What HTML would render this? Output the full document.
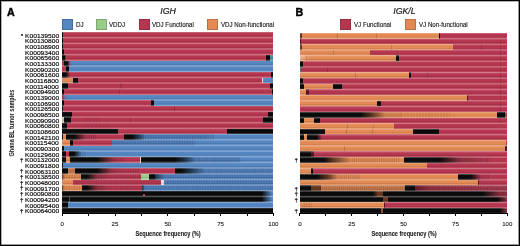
<!DOCTYPE html>
<html><head><meta charset="utf-8"><style>
html,body{margin:0;padding:0;background:#fff;}
body{width:520px;height:246px;position:relative;overflow:hidden;font-family:"Liberation Sans",sans-serif;color:#222;}
.fr{position:absolute;left:0;top:0;width:520px;height:246px;box-sizing:border-box;border:1px solid #000;box-shadow:inset -1px -1px 0 rgba(0,0,0,0.4), inset 1px 1px 0 rgba(0,0,0,0.3);}
.r{position:absolute;}
.wrap{position:absolute;left:0;top:0;width:520px;height:246px;will-change:transform;filter:blur(0.35px);}
.lab{position:absolute;-webkit-text-stroke:0.15px #000;left:24.6px;font-size:6.2px;line-height:7px;white-space:nowrap;color:#000;transform-origin:0 50%;transform:scaleX(1.08);}
.dag{position:absolute;font-size:6.2px;line-height:7px;color:#000;-webkit-text-stroke:0.2px #000;}
.dot{position:absolute;width:2px;height:2px;border-radius:1px;background:#111;}
.tk{position:absolute;-webkit-text-stroke:0.1px #222;width:30px;text-align:center;font-size:6.1px;line-height:7px;color:#222;}
.xl{position:absolute;-webkit-text-stroke:0.12px #1a1a1a;width:100px;text-align:center;font-weight:bold;font-size:7.4px;line-height:8px;color:#1a1a1a;transform:scaleX(0.76);}
.pl{position:absolute;font-weight:bold;font-size:10.7px;line-height:11px;color:#000;-webkit-text-stroke:0.45px #000;}
.ti{position:absolute;font-style:italic;font-size:8.8px;line-height:9px;color:#1a1a1a;-webkit-text-stroke:0.2px #1a1a1a;}
.lg{position:absolute;width:11px;height:11.2px;box-sizing:border-box;border:0.6px solid rgba(0,0,0,0.18);}
.lt{position:absolute;-webkit-text-stroke:0.15px #1a1a1a;font-size:6.9px;line-height:7px;white-space:nowrap;color:#222;transform-origin:0 50%;transform:scaleX(0.895);}
.yl{position:absolute;width:90px;height:8px;text-align:center;font-weight:bold;font-size:7px;line-height:8px;white-space:nowrap;color:#111;transform:rotate(-90deg) scaleX(0.79);}
</style></head><body><div class="wrap">
<div class="pl" style="left:6.9px;top:6.6px">A</div>
<div class="pl" style="left:295.6px;top:6.6px">B</div>
<div class="ti" style="left:160.3px;top:7.0px">IGH</div>
<div class="ti" style="left:393.2px;top:7.0px">IGK/L</div>
<div class="lg" style="left:61.8px;top:18.5px;background:#5486c2"></div><div class="lt" style="left:75.8px;top:20.8px">DJ</div>
<div class="lg" style="left:96px;top:18.5px;background:#9ccc8a"></div><div class="lt" style="left:109.2px;top:20.8px">VDDJ</div>
<div class="lg" style="left:138.5px;top:18.5px;background:#b6364f"></div><div class="lt" style="left:152.3px;top:20.8px">VDJ Functional</div>
<div class="lg" style="left:206.9px;top:18.5px;background:#e38a55"></div><div class="lt" style="left:220.8px;top:20.8px">VDJ Non-functional</div>
<div class="lg" style="left:340.3px;top:18.5px;background:#b6364f"></div><div class="lt" style="left:354px;top:20.8px">VJ Functional</div>
<div class="lg" style="left:404.9px;top:18.5px;background:#e38a55"></div><div class="lt" style="left:419px;top:20.8px">VJ Non-functional</div>
<div class="yl" style="left:-32.8px;top:118.9px">Ghana BL tumor samples</div>
<div class="r" style="left:62.20px;top:32.20px;width:211.20px;height:5.669px;background:linear-gradient(to right,#0a0a0a 0px,#0a0a0a 1.00px,#b6364f 1.00px,#b6364f 211.20px)"></div>
<div class="r" style="left:62.20px;top:37.87px;width:211.20px;height:5.669px;background:linear-gradient(to right,#0a0a0a 0px,#0a0a0a 0.80px,#b6364f 0.80px,#b6364f 211.20px)"></div>
<div class="r" style="left:62.20px;top:43.54px;width:211.20px;height:5.669px;background:linear-gradient(to right,#0a0a0a 0px,#0a0a0a 0.60px,#b6364f 0.60px,#b6364f 211.20px)"></div>
<div class="r" style="left:62.20px;top:49.21px;width:211.20px;height:5.669px;background:linear-gradient(to right,#0a0a0a 0px,#0a0a0a 1.60px,#b6364f 1.60px,#b6364f 211.20px)"></div>
<div class="r" style="left:62.20px;top:54.88px;width:211.20px;height:5.669px;background:linear-gradient(to right,#0a0a0a 0px,#0a0a0a 2.70px,#0a0a0a 2.70px,#a04a40 4.00px,#b6364f 5.30px,#b6364f 204.30px,#0a0a0a 204.30px,#0a0a0a 208.50px,#4a8aa8 208.50px,#4a8aa8 211.20px)"></div>
<div class="r" style="left:62.20px;top:60.54px;width:211.20px;height:5.669px;background:linear-gradient(to right,#b6364f 0px,#b6364f 1.50px,#0a0a0a 1.50px,#0a0a0a 5.10px,#0a0a0a 5.10px,#7a6a9a 8.30px,#5486c2 10.80px,#5486c2 211.20px)"></div>
<div class="r" style="left:62.20px;top:66.21px;width:211.20px;height:5.669px;background:linear-gradient(to right,#b6364f 0px,#b6364f 3.80px,#0a0a0a 3.80px,#0a0a0a 6.90px,#5486c2 6.90px,#5486c2 211.20px)"></div>
<div class="r" style="left:62.20px;top:71.88px;width:211.20px;height:5.669px;background:linear-gradient(to right,#0a0a0a 0px,#0a0a0a 3.90px,#0a0a0a 3.90px,#b6364f 7.80px,#b6364f 208.80px,#0a0a0a 208.80px,#0a0a0a 211.20px)"></div>
<div class="r" style="left:62.20px;top:77.55px;width:211.20px;height:5.669px;background:linear-gradient(to right,#e38a55 0px,#e38a55 11.30px,#0a0a0a 11.30px,#0a0a0a 15.50px,#b6364f 15.50px,#b6364f 199.80px,#f0e0e0 199.80px,#f0e0e0 201.50px,#5486c2 201.50px,#5486c2 211.20px)"></div>
<div class="r" style="left:62.20px;top:83.22px;width:211.20px;height:5.669px;background:linear-gradient(to right,#0a0a0a 0px,#0a0a0a 6.10px,#b6364f 6.10px,#b6364f 208.50px,#0a0a0a 208.50px,#0a0a0a 211.20px)"></div>
<div class="r" style="left:120.00px;top:83.22px;width:2.00px;height:5.67px;background:rgba(0,0,0,0.138)"></div>
<div class="r" style="left:62.20px;top:88.89px;width:211.20px;height:5.669px;background:linear-gradient(to right,#0a0a0a 0px,#0a0a0a 2.30px,#b6364f 2.30px,#b6364f 209.80px,#0a0a0a 209.80px,#0a0a0a 211.20px)"></div>
<div class="r" style="left:119.00px;top:88.89px;width:1.00px;height:5.67px;background:rgba(0,0,0,0.165)"></div>
<div class="r" style="left:62.20px;top:94.56px;width:211.20px;height:5.669px;background:linear-gradient(to right,#b6364f 0px,#b6364f 1.80px,#7a6a9a 1.80px,#7a6a9a 4.10px,#5486c2 4.10px,#5486c2 211.20px)"></div>
<div class="r" style="left:62.20px;top:100.22px;width:211.20px;height:5.669px;background:linear-gradient(to right,#0a0a0a 0px,#0a0a0a 1.80px,#b6364f 1.80px,#b6364f 89.20px,#0a0a0a 89.20px,#0a0a0a 92.30px,#5486c2 92.30px,#5486c2 211.20px)"></div>
<div class="r" style="left:62.20px;top:105.89px;width:211.20px;height:5.669px;background:linear-gradient(to right,#0a0a0a 0px,#0a0a0a 1.30px,#b6364f 1.30px,#b6364f 211.20px)"></div>
<div class="r" style="left:174.00px;top:105.89px;width:1.00px;height:5.67px;background:rgba(0,0,0,0.193)"></div>
<div class="r" style="left:62.20px;top:111.56px;width:211.20px;height:5.669px;background:linear-gradient(to right,#0a0a0a 0px,#0a0a0a 10.30px,#b6364f 10.30px,#b6364f 205.80px,#0a0a0a 205.80px,#0a0a0a 211.20px)"></div>
<div class="r" style="left:62.20px;top:117.23px;width:211.20px;height:5.669px;background:linear-gradient(to right,#d8b8b0 0px,#d8b8b0 1.80px,#0a0a0a 1.80px,#0a0a0a 9.20px,#b6364f 9.20px,#b6364f 192.80px,#b6364f 192.80px,#b6364f 200.80px,#0a0a0a 200.80px,#0a0a0a 211.20px)"></div>
<div class="r" style="left:84.00px;top:117.23px;width:16.00px;height:5.67px;background:repeating-linear-gradient(to right,rgba(0,0,0,0.075) 0px,rgba(0,0,0,0) 1.60px,rgba(0,0,0,0.075) 3.20px)"></div>
<div class="r" style="left:130.00px;top:117.23px;width:1.00px;height:5.67px;background:rgba(0,0,0,0.138)"></div>
<div class="r" style="left:62.20px;top:122.90px;width:211.20px;height:5.669px;background:linear-gradient(to right,#0a0a0a 0px,#0a0a0a 5.10px,#b6364f 5.10px,#b6364f 211.20px)"></div>
<div class="r" style="left:84.00px;top:122.90px;width:26.00px;height:5.67px;background:repeating-linear-gradient(to right,rgba(0,0,0,0.060) 0px,rgba(0,0,0,0) 2.00px,rgba(0,0,0,0.060) 4.00px)"></div>
<div class="r" style="left:62.20px;top:128.57px;width:211.20px;height:5.669px;background:linear-gradient(to right,#0a0a0a 0px,#0a0a0a 55.80px,#b6364f 55.80px,#b6364f 164.80px,#0a0a0a 164.80px,#0a0a0a 211.20px)"></div>
<div class="r" style="left:62.20px;top:134.24px;width:211.20px;height:5.669px;background:linear-gradient(to right,#0a0a0a 0px,#0a0a0a 0.80px,#e38a55 0.80px,#e38a55 3.80px,#0a0a0a 3.80px,#0a0a0a 12.30px,#0a0a0a 12.30px,#b6364f 23.80px,#b6364f 62.20px,#0a0a0a 62.20px,#0a0a0a 70.30px,#0a0a0a 70.30px,#1d3550 75.80px,#4f7ebb 83.80px,#4f7ebb 142.80px,#4f7ebb 142.80px,#5486c2 152.80px,#5486c2 211.20px)"></div>
<div class="r" style="left:76.00px;top:134.24px;width:20.00px;height:5.67px;background:repeating-linear-gradient(to right,rgba(0,0,0,0.175) 0px,rgba(0,0,0,0) 1.10px,rgba(0,0,0,0.175) 2.20px)"></div>
<div class="r" style="left:138.00px;top:134.24px;width:77.00px;height:5.67px;background:repeating-linear-gradient(to right,rgba(0,0,0,0.150) 0px,rgba(0,0,0,0) 1.30px,rgba(0,0,0,0.150) 2.60px)"></div>
<div class="r" style="left:62.20px;top:139.91px;width:211.20px;height:5.669px;background:linear-gradient(to right,#e38a55 0px,#e38a55 8.20px,#0a0a0a 8.20px,#0a0a0a 11.30px,#b6364f 11.30px,#b6364f 49.80px,#4f7ebb 49.80px,#4f7ebb 127.80px,#4f7ebb 127.80px,#5486c2 137.80px,#5486c2 211.20px)"></div>
<div class="r" style="left:112.00px;top:139.91px;width:83.00px;height:5.67px;background:repeating-linear-gradient(to right,rgba(0,0,0,0.110) 0px,rgba(0,0,0,0) 1.30px,rgba(0,0,0,0.110) 2.60px)"></div>
<div class="r" style="left:62.20px;top:145.57px;width:211.20px;height:5.669px;background:linear-gradient(to right,#0a0a0a 0px,#0a0a0a 2.30px,#5486c2 2.30px,#5486c2 211.20px)"></div>
<div class="r" style="left:62.20px;top:151.24px;width:211.20px;height:5.669px;background:linear-gradient(to right,#0a0a0a 0px,#0a0a0a 3.80px,#b6364f 3.80px,#b6364f 7.30px,#0a0a0a 7.30px,#0a0a0a 11.80px,#0a0a0a 11.80px,#5486c2 19.80px,#5486c2 211.20px)"></div>
<div class="r" style="left:74.00px;top:151.24px;width:12.00px;height:5.67px;background:repeating-linear-gradient(to right,rgba(0,0,0,0.150) 0px,rgba(0,0,0,0) 1.10px,rgba(0,0,0,0.150) 2.20px)"></div>
<div class="r" style="left:62.20px;top:156.91px;width:211.20px;height:5.669px;background:linear-gradient(to right,#0a0a0a 0px,#0a0a0a 3.80px,#e38a55 3.80px,#e38a55 7.80px,#0a0a0a 7.80px,#0a0a0a 35.20px,#0a0a0a 35.20px,#94303f 49.80px,#b6364f 57.80px,#b6364f 77.80px,#e8e0b0 77.80px,#e8e0b0 79.00px,#0a0a0a 79.00px,#0a0a0a 112.80px,#0a0a0a 112.80px,#1d3550 122.80px,#4f7ebb 133.80px,#4f7ebb 172.80px,#4f7ebb 172.80px,#5486c2 187.80px,#5486c2 211.20px)"></div>
<div class="r" style="left:97.00px;top:156.91px;width:28.00px;height:5.67px;background:repeating-linear-gradient(to right,rgba(0,0,0,0.150) 0px,rgba(0,0,0,0) 1.20px,rgba(0,0,0,0.150) 2.40px)"></div>
<div class="r" style="left:176.00px;top:156.91px;width:64.00px;height:5.67px;background:repeating-linear-gradient(to right,rgba(0,0,0,0.150) 0px,rgba(0,0,0,0) 1.30px,rgba(0,0,0,0.150) 2.60px)"></div>
<div class="r" style="left:62.20px;top:162.58px;width:211.20px;height:5.669px;background:linear-gradient(to right,#0a0a0a 0px,#0a0a0a 0.80px,#5486c2 0.80px,#5486c2 211.20px)"></div>
<div class="r" style="left:62.20px;top:168.25px;width:211.20px;height:5.669px;background:linear-gradient(to right,#0a0a0a 0px,#0a0a0a 6.10px,#c07048 6.10px,#c07048 13.40px,#0a0a0a 13.40px,#0a0a0a 35.20px,#0a0a0a 35.20px,#94303f 47.80px,#b6364f 55.80px,#b6364f 113.30px,#0a0a0a 113.30px,#0a0a0a 119.30px,#0a0a0a 119.30px,#1d3550 127.80px,#4f7ebb 142.80px,#4f7ebb 211.20px)"></div>
<div class="r" style="left:95.00px;top:168.25px;width:45.00px;height:5.67px;background:repeating-linear-gradient(to right,rgba(0,0,0,0.150) 0px,rgba(0,0,0,0) 1.20px,rgba(0,0,0,0.150) 2.40px)"></div>
<div class="r" style="left:180.00px;top:168.25px;width:93.00px;height:5.67px;background:repeating-linear-gradient(to right,rgba(0,0,0,0.110) 0px,rgba(0,0,0,0) 1.30px,rgba(0,0,0,0.110) 2.60px)"></div>
<div class="r" style="left:62.20px;top:173.92px;width:211.20px;height:5.669px;background:linear-gradient(to right,#6a3a20 0px,#e38a55 2.80px,#e38a55 18.60px,#0a0a0a 18.60px,#0a0a0a 24.80px,#0a0a0a 24.80px,#94303f 34.80px,#b6364f 47.80px,#b6364f 78.80px,#9ccc8a 78.80px,#9ccc8a 86.80px,#0a0a0a 86.80px,#0a0a0a 92.80px,#1d3550 92.80px,#4f7ebb 102.80px,#4f7ebb 211.20px)"></div>
<div class="r" style="left:62.00px;top:173.92px;width:19.00px;height:5.67px;background:repeating-linear-gradient(to right,rgba(0,0,0,0.125) 0px,rgba(0,0,0,0) 1.25px,rgba(0,0,0,0.125) 2.50px)"></div>
<div class="r" style="left:87.00px;top:173.92px;width:54.00px;height:5.67px;background:repeating-linear-gradient(to right,rgba(0,0,0,0.110) 0px,rgba(0,0,0,0) 1.20px,rgba(0,0,0,0.110) 2.40px)"></div>
<div class="r" style="left:155.00px;top:173.92px;width:118.00px;height:5.67px;background:repeating-linear-gradient(to right,rgba(0,0,0,0.100) 0px,rgba(0,0,0,0) 1.30px,rgba(0,0,0,0.100) 2.60px)"></div>
<div class="r" style="left:62.20px;top:179.59px;width:211.20px;height:5.669px;background:linear-gradient(to right,#e38a55 0px,#e38a55 11.30px,#b6364f 11.30px,#b6364f 99.10px,#f0e0e0 99.10px,#f0e0e0 102.30px,#4f7ebb 102.30px,#4f7ebb 211.20px)"></div>
<div class="r" style="left:74.00px;top:179.59px;width:86.00px;height:5.67px;background:repeating-linear-gradient(to right,rgba(0,0,0,0.075) 0px,rgba(0,0,0,0) 1.25px,rgba(0,0,0,0.075) 2.50px)"></div>
<div class="r" style="left:165.00px;top:179.59px;width:108.00px;height:5.67px;background:repeating-linear-gradient(to right,rgba(0,0,0,0.100) 0px,rgba(0,0,0,0) 1.30px,rgba(0,0,0,0.100) 2.60px)"></div>
<div class="r" style="left:62.20px;top:185.26px;width:211.20px;height:5.669px;background:linear-gradient(to right,#6a3a20 0px,#e38a55 2.30px,#e38a55 19.60px,#0a0a0a 19.60px,#0a0a0a 24.80px,#0a0a0a 24.80px,#94303f 35.80px,#b6364f 47.80px,#b6364f 80.30px,#1d3550 80.30px,#4f7ebb 82.80px,#4f7ebb 211.20px)"></div>
<div class="r" style="left:62.00px;top:185.26px;width:20.00px;height:5.67px;background:repeating-linear-gradient(to right,rgba(0,0,0,0.100) 0px,rgba(0,0,0,0) 1.25px,rgba(0,0,0,0.100) 2.50px)"></div>
<div class="r" style="left:87.00px;top:185.26px;width:55.00px;height:5.67px;background:repeating-linear-gradient(to right,rgba(0,0,0,0.110) 0px,rgba(0,0,0,0) 1.20px,rgba(0,0,0,0.110) 2.40px)"></div>
<div class="r" style="left:143.00px;top:185.26px;width:130.00px;height:5.67px;background:repeating-linear-gradient(to right,rgba(0,0,0,0.100) 0px,rgba(0,0,0,0) 1.30px,rgba(0,0,0,0.100) 2.60px)"></div>
<div class="r" style="left:62.20px;top:190.92px;width:211.20px;height:5.669px;background:linear-gradient(to right,#0a0a0a 0px,#0a0a0a 199.80px,#0a0a0a 199.80px,#5486c2 209.80px,#5486c2 211.20px)"></div>
<div class="r" style="left:62.20px;top:196.59px;width:211.20px;height:5.669px;background:linear-gradient(to right,#0a0a0a 0px,#0a0a0a 6.80px,#505050 6.80px,#505050 7.80px,#0a0a0a 7.80px,#0a0a0a 199.80px,#0a0a0a 199.80px,#5486c2 209.80px,#5486c2 211.20px)"></div>
<div class="r" style="left:62.20px;top:202.26px;width:211.20px;height:5.669px;background:linear-gradient(to right,#0a0a0a 0px,#0a0a0a 5.80px,#5486c2 5.80px,#5486c2 211.20px)"></div>
<div class="r" style="left:62.20px;top:207.93px;width:211.20px;height:5.669px;background:linear-gradient(to right,#0a0a0a 0px,#0a0a0a 211.20px)"></div>
<div class="r" style="left:62.20px;top:32.20px;width:211.20px;height:181.40px;background:repeating-linear-gradient(to bottom,rgba(255,255,255,0.33) 0px,rgba(255,255,255,0) 1.4px,rgba(0,0,0,0) 3.27px,rgba(0,0,0,0.13) 3.97px,rgba(255,255,255,0.06) 4.67px,rgba(255,255,255,0.33) 5.669px)"></div>
<div class="r" style="left:299.90px;top:32.90px;width:207.40px;height:5.644px;background:linear-gradient(to right,#6a3a20 0px,#6a3a20 1.80px,#e38a55 1.80px,#e38a55 139.10px,#0a0a0a 139.10px,#0a0a0a 140.10px,#b6364f 140.10px,#b6364f 207.40px)"></div>
<div class="r" style="left:337.00px;top:32.90px;width:1.00px;height:5.64px;background:rgba(0,0,0,0.165)"></div>
<div class="r" style="left:376.00px;top:32.90px;width:1.00px;height:5.64px;background:rgba(0,0,0,0.138)"></div>
<div class="r" style="left:299.90px;top:38.54px;width:207.40px;height:5.644px;background:linear-gradient(to right,#4a1020 0px,#4a1020 1.10px,#b6364f 1.10px,#b6364f 207.40px)"></div>
<div class="r" style="left:299.90px;top:44.19px;width:207.40px;height:5.644px;background:linear-gradient(to right,#6a3a20 0px,#6a3a20 1.80px,#e38a55 1.80px,#e38a55 153.00px,#b6364f 153.00px,#b6364f 207.40px)"></div>
<div class="r" style="left:391.00px;top:44.19px;width:1.00px;height:5.64px;background:rgba(0,0,0,0.138)"></div>
<div class="r" style="left:481.00px;top:44.19px;width:1.00px;height:5.64px;background:rgba(0,0,0,0.165)"></div>
<div class="r" style="left:299.90px;top:49.83px;width:207.40px;height:5.644px;background:linear-gradient(to right,#e38a55 0px,#e38a55 69.70px,#b6364f 69.70px,#b6364f 207.40px)"></div>
<div class="r" style="left:333.00px;top:49.83px;width:1.00px;height:5.64px;background:rgba(0,0,0,0.138)"></div>
<div class="r" style="left:299.90px;top:55.47px;width:207.40px;height:5.644px;background:linear-gradient(to right,#f0b090 0px,#e38a55 10.10px,#e38a55 95.70px,#0a0a0a 95.70px,#0a0a0a 98.80px,#b6364f 98.80px,#b6364f 207.40px)"></div>
<div class="r" style="left:306.00px;top:55.47px;width:1.00px;height:5.64px;background:rgba(0,0,0,0.138)"></div>
<div class="r" style="left:299.90px;top:61.12px;width:207.40px;height:5.644px;background:linear-gradient(to right,#0a0a0a 0px,#0a0a0a 3.30px,#b6364f 3.30px,#b6364f 207.40px)"></div>
<div class="r" style="left:299.90px;top:66.76px;width:207.40px;height:5.644px;background:linear-gradient(to right,#606070 0px,#606070 1.10px,#b6364f 1.10px,#b6364f 207.40px)"></div>
<div class="r" style="left:327.00px;top:66.76px;width:1.00px;height:5.64px;background:rgba(0,0,0,0.138)"></div>
<div class="r" style="left:299.90px;top:72.41px;width:207.40px;height:5.644px;background:linear-gradient(to right,#e38a55 0px,#e38a55 109.40px,#0a0a0a 109.40px,#0a0a0a 111.40px,#b6364f 111.40px,#b6364f 207.40px)"></div>
<div class="r" style="left:355.00px;top:72.41px;width:1.00px;height:5.64px;background:rgba(0,0,0,0.165)"></div>
<div class="r" style="left:427.00px;top:72.41px;width:1.00px;height:5.64px;background:rgba(0,0,0,0.138)"></div>
<div class="r" style="left:299.90px;top:78.05px;width:207.40px;height:5.644px;background:linear-gradient(to right,#0a0a0a 0px,#0a0a0a 3.30px,#b6364f 3.30px,#b6364f 207.40px)"></div>
<div class="r" style="left:299.90px;top:83.69px;width:207.40px;height:5.644px;background:linear-gradient(to right,#0a0a0a 0px,#0a0a0a 4.30px,#e38a55 4.30px,#e38a55 33.40px,#0a0a0a 33.40px,#0a0a0a 41.70px,#b6364f 41.70px,#b6364f 207.40px)"></div>
<div class="r" style="left:299.90px;top:89.34px;width:207.40px;height:5.644px;background:linear-gradient(to right,#e38a55 0px,#e38a55 6.40px,#5a1424 6.40px,#5a1424 8.50px,#b6364f 8.50px,#b6364f 207.40px)"></div>
<div class="r" style="left:299.90px;top:94.98px;width:207.40px;height:5.644px;background:linear-gradient(to right,#e38a55 0px,#e38a55 166.50px,#5a1424 166.50px,#5a1424 167.60px,#b6364f 167.60px,#b6364f 207.40px)"></div>
<div class="r" style="left:299.90px;top:100.62px;width:207.40px;height:5.644px;background:linear-gradient(to right,#e38a55 0px,#e38a55 77.10px,#0a0a0a 77.10px,#0a0a0a 81.10px,#b6364f 81.10px,#b6364f 207.40px)"></div>
<div class="r" style="left:299.90px;top:106.27px;width:207.40px;height:5.644px;background:linear-gradient(to right,#b6364f 0px,#b6364f 207.40px)"></div>
<div class="r" style="left:299.90px;top:111.91px;width:207.40px;height:5.644px;background:linear-gradient(to right,#0a0a0a 0px,#0a0a0a 60.40px,#0a0a0a 60.40px,#6a3a20 72.10px,#e38a55 85.10px,#e38a55 196.60px,#0a0a0a 196.60px,#0a0a0a 204.90px,#b6364f 204.90px,#b6364f 207.40px)"></div>
<div class="r" style="left:362.00px;top:111.91px;width:40.00px;height:5.64px;background:repeating-linear-gradient(to right,rgba(0,0,0,0.175) 0px,rgba(0,0,0,0) 1.00px,rgba(0,0,0,0.175) 2.00px)"></div>
<div class="r" style="left:402.00px;top:111.91px;width:48.00px;height:5.64px;background:repeating-linear-gradient(to right,rgba(0,0,0,0.100) 0px,rgba(0,0,0,0) 1.50px,rgba(0,0,0,0.100) 3.00px)"></div>
<div class="r" style="left:299.90px;top:117.56px;width:207.40px;height:5.644px;background:linear-gradient(to right,#0a0a0a 0px,#0a0a0a 3.90px,#e38a55 3.90px,#e38a55 14.30px,#0a0a0a 14.30px,#0a0a0a 19.90px,#b6364f 19.90px,#b6364f 207.40px)"></div>
<div class="r" style="left:299.90px;top:123.20px;width:207.40px;height:5.644px;background:linear-gradient(to right,#e38a55 0px,#e38a55 93.60px,#b6364f 93.60px,#b6364f 207.40px)"></div>
<div class="r" style="left:347.00px;top:123.20px;width:1.00px;height:5.64px;background:rgba(0,0,0,0.138)"></div>
<div class="r" style="left:373.00px;top:123.20px;width:1.00px;height:5.64px;background:rgba(0,0,0,0.110)"></div>
<div class="r" style="left:299.90px;top:128.84px;width:207.40px;height:5.644px;background:linear-gradient(to right,#0a0a0a 0px,#0a0a0a 24.70px,#e38a55 24.70px,#e38a55 112.50px,#0a0a0a 112.50px,#0a0a0a 139.10px,#b6364f 139.10px,#b6364f 207.40px)"></div>
<div class="r" style="left:346.00px;top:128.84px;width:1.00px;height:5.64px;background:rgba(0,0,0,0.165)"></div>
<div class="r" style="left:372.00px;top:128.84px;width:1.00px;height:5.64px;background:rgba(0,0,0,0.138)"></div>
<div class="r" style="left:299.90px;top:134.49px;width:207.40px;height:5.644px;background:linear-gradient(to right,#0a0a0a 0px,#0a0a0a 4.30px,#e38a55 4.30px,#e38a55 7.40px,#0a0a0a 7.40px,#0a0a0a 16.80px,#0a0a0a 16.80px,#b6364f 22.10px,#b6364f 207.40px)"></div>
<div class="r" style="left:299.90px;top:140.13px;width:207.40px;height:5.644px;background:linear-gradient(to right,#e38a55 0px,#e38a55 206.10px,#b6364f 206.10px,#b6364f 207.40px)"></div>
<div class="r" style="left:299.90px;top:145.78px;width:207.40px;height:5.644px;background:linear-gradient(to right,#e38a55 0px,#e38a55 205.10px,#5a1424 205.10px,#5a1424 207.40px)"></div>
<div class="r" style="left:344.00px;top:145.78px;width:1.00px;height:5.64px;background:rgba(0,0,0,0.165)"></div>
<div class="r" style="left:299.90px;top:151.42px;width:207.40px;height:5.644px;background:linear-gradient(to right,#0a0a0a 0px,#0a0a0a 10.60px,#5a1424 10.60px,#5a1424 13.60px,#b6364f 13.60px,#b6364f 207.40px)"></div>
<div class="r" style="left:299.90px;top:157.06px;width:207.40px;height:5.644px;background:linear-gradient(to right,#0a0a0a 0px,#0a0a0a 24.10px,#0a0a0a 24.10px,#6a3a20 33.10px,#e38a55 50.10px,#e38a55 104.10px,#0a0a0a 104.10px,#0a0a0a 139.50px,#0a0a0a 139.50px,#94303f 160.10px,#b6364f 185.10px,#b6364f 207.40px)"></div>
<div class="r" style="left:325.00px;top:157.06px;width:75.00px;height:5.64px;background:repeating-linear-gradient(to right,rgba(0,0,0,0.150) 0px,rgba(0,0,0,0) 1.05px,rgba(0,0,0,0.150) 2.10px)"></div>
<div class="r" style="left:439.00px;top:157.06px;width:51.00px;height:5.64px;background:repeating-linear-gradient(to right,rgba(0,0,0,0.150) 0px,rgba(0,0,0,0) 1.15px,rgba(0,0,0,0.150) 2.30px)"></div>
<div class="r" style="left:299.90px;top:162.71px;width:207.40px;height:5.644px;background:linear-gradient(to right,#e38a55 0px,#e38a55 127.10px,#b6364f 127.10px,#b6364f 207.40px)"></div>
<div class="r" style="left:299.90px;top:168.35px;width:207.40px;height:5.644px;background:linear-gradient(to right,#e38a55 0px,#e38a55 10.60px,#0a0a0a 10.60px,#0a0a0a 13.10px,#b6364f 13.10px,#b6364f 207.40px)"></div>
<div class="r" style="left:299.90px;top:173.99px;width:207.40px;height:5.644px;background:linear-gradient(to right,#0a0a0a 0px,#0a0a0a 16.80px,#0a0a0a 16.80px,#6a3a20 28.10px,#e38a55 37.60px,#e38a55 158.10px,#0a0a0a 158.10px,#0a0a0a 170.60px,#0a0a0a 170.60px,#b6364f 181.10px,#b6364f 207.40px)"></div>
<div class="r" style="left:317.00px;top:173.99px;width:43.00px;height:5.64px;background:repeating-linear-gradient(to right,rgba(0,0,0,0.150) 0px,rgba(0,0,0,0) 1.05px,rgba(0,0,0,0.150) 2.10px)"></div>
<div class="r" style="left:470.00px;top:173.99px;width:20.00px;height:5.64px;background:repeating-linear-gradient(to right,rgba(0,0,0,0.150) 0px,rgba(0,0,0,0) 1.15px,rgba(0,0,0,0.150) 2.30px)"></div>
<div class="r" style="left:299.90px;top:179.64px;width:207.40px;height:5.644px;background:linear-gradient(to right,#e38a55 0px,#e38a55 177.90px,#5a1424 177.90px,#5a1424 179.10px,#b6364f 179.10px,#b6364f 207.40px)"></div>
<div class="r" style="left:299.90px;top:185.28px;width:207.40px;height:5.644px;background:linear-gradient(to right,#0a0a0a 0px,#0a0a0a 10.60px,#6a3a20 10.60px,#6a3a20 20.90px,#c87a4c 20.90px,#c87a4c 105.10px,#0a0a0a 105.10px,#0a0a0a 114.60px,#6a1a2c 114.60px,#94303f 130.10px,#a83a50 207.10px,#a83a50 207.40px)"></div>
<div class="r" style="left:310.00px;top:185.28px;width:95.00px;height:5.64px;background:repeating-linear-gradient(to right,rgba(0,0,0,0.150) 0px,rgba(0,0,0,0) 1.05px,rgba(0,0,0,0.150) 2.10px)"></div>
<div class="r" style="left:414.00px;top:185.28px;width:93.00px;height:5.64px;background:repeating-linear-gradient(to right,rgba(0,0,0,0.125) 0px,rgba(0,0,0,0) 1.15px,rgba(0,0,0,0.125) 2.30px)"></div>
<div class="r" style="left:299.90px;top:190.93px;width:207.40px;height:5.644px;background:linear-gradient(to right,#0a0a0a 0px,#0a0a0a 72.90px,#0a0a0a 72.90px,#6a3a20 78.10px,#6a3a20 83.10px,#0a0a0a 83.10px,#0a0a0a 183.10px,#0a0a0a 183.10px,#94303f 200.10px,#94303f 207.40px)"></div>
<div class="r" style="left:483.00px;top:190.93px;width:24.00px;height:5.64px;background:repeating-linear-gradient(to right,rgba(0,0,0,0.150) 0px,rgba(0,0,0,0) 1.15px,rgba(0,0,0,0.150) 2.30px)"></div>
<div class="r" style="left:299.90px;top:196.57px;width:207.40px;height:5.644px;background:linear-gradient(to right,#0a0a0a 0px,#0a0a0a 83.30px,#6a3a20 83.30px,#6a3a20 88.10px,#0a0a0a 88.10px,#0a0a0a 197.60px,#0a0a0a 197.60px,#94303f 207.10px,#94303f 207.40px)"></div>
<div class="r" style="left:299.90px;top:202.21px;width:207.40px;height:5.644px;background:linear-gradient(to right,#e38a55 0px,#e38a55 84.10px,#5a1424 84.10px,#5a1424 85.10px,#b6364f 85.10px,#b6364f 207.40px)"></div>
<div class="r" style="left:302.00px;top:202.21px;width:10.00px;height:5.64px;background:repeating-linear-gradient(to right,rgba(0,0,0,0.125) 0px,rgba(0,0,0,0) 1.25px,rgba(0,0,0,0.125) 2.50px)"></div>
<div class="r" style="left:299.90px;top:207.86px;width:207.40px;height:5.644px;background:linear-gradient(to right,#0a0a0a 0px,#0a0a0a 80.60px,#8a5030 80.60px,#8a5030 82.60px,#0a0a0a 82.60px,#0a0a0a 200.10px,#0a0a0a 200.10px,#94303f 207.10px,#94303f 207.40px)"></div>
<div class="r" style="left:299.90px;top:32.90px;width:207.40px;height:180.60px;background:repeating-linear-gradient(to bottom,rgba(255,255,255,0.33) 0px,rgba(255,255,255,0) 1.4px,rgba(0,0,0,0) 3.24px,rgba(0,0,0,0.13) 3.94px,rgba(255,255,255,0.06) 4.64px,rgba(255,255,255,0.33) 5.644px)"></div>
<div class="r" style="left:143px;top:193.52px;width:2px;height:2.6px;background:#b04848"></div>
<div class="r" style="left:500px;top:38.7px;width:1px;height:84px;background:rgba(60,0,20,0.13)"></div>
<div class="lab" style="top:31.73px">K00139500</div>
<div class="lab" style="top:37.40px">K00130800</div>
<div class="lab" style="top:43.07px">K00108900</div>
<div class="lab" style="top:48.74px">K00093400</div>
<div class="lab" style="top:54.41px">K00065600</div>
<div class="lab" style="top:60.08px">K00133300</div>
<div class="lab" style="top:65.75px">K00090200</div>
<div class="lab" style="top:71.42px">K00061600</div>
<div class="lab" style="top:77.08px">K00116800</div>
<div class="lab" style="top:82.75px">K00114000</div>
<div class="lab" style="top:88.42px">K00094900</div>
<div class="lab" style="top:94.09px">K00139000</div>
<div class="lab" style="top:99.76px">K00106900</div>
<div class="lab" style="top:105.43px">K00126500</div>
<div class="lab" style="top:111.10px">K00098500</div>
<div class="lab" style="top:116.77px">K00090900</div>
<div class="lab" style="top:122.43px">K00060800</div>
<div class="lab" style="top:128.10px">K00108600</div>
<div class="lab" style="top:133.77px">K00142100</div>
<div class="lab" style="top:139.44px">K00115400</div>
<div class="lab" style="top:145.11px">K00090300</div>
<div class="lab" style="top:150.78px">K00129600</div>
<div class="lab" style="top:156.45px">K00132000</div>
<div class="dag" style="left:19.9px;top:156.15px">&#8224;</div>
<div class="lab" style="top:162.12px">K00091800</div>
<div class="lab" style="top:167.78px">K00063100</div>
<div class="dag" style="left:19.9px;top:167.48px">&#8224;</div>
<div class="lab" style="top:173.45px">K00138500</div>
<div class="dag" style="left:19.9px;top:173.15px">&#8224;</div>
<div class="lab" style="top:179.12px">K00048000</div>
<div class="dag" style="left:19.9px;top:178.82px">&#8224;</div>
<div class="lab" style="top:184.79px">K00091700</div>
<div class="dag" style="left:19.9px;top:184.49px">&#8224;</div>
<div class="lab" style="top:190.46px">K00090800</div>
<div class="dag" style="left:19.9px;top:190.16px">&#8224;</div>
<div class="lab" style="top:196.13px">K00094200</div>
<div class="dag" style="left:19.9px;top:195.83px">&#8224;</div>
<div class="lab" style="top:201.80px">K00095400</div>
<div class="lab" style="top:207.47px">K00064000</div>
<div class="dag" style="left:19.9px;top:207.17px">&#8224;</div>
<div class="dot" style="left:20.5px;top:33.63px"></div>
<div class="dag" style="left:294.5px;top:156.28px">&#8224;</div>
<div class="dag" style="left:294.5px;top:184.50px">&#8224;</div>
<div class="dag" style="left:294.5px;top:190.15px">&#8224;</div>
<div class="dag" style="left:294.5px;top:195.79px">&#8224;</div>
<div class="dag" style="left:294.5px;top:207.08px">&#8224;</div>
<div style="position:absolute;left:61.70px;top:213.00px;width:212.20px;height:1px;background:#000"></div>
<div style="position:absolute;left:61.70px;top:213.60px;width:1px;height:2px;background:#000"></div>
<div style="position:absolute;left:88.10px;top:213.60px;width:1px;height:2px;background:#000"></div>
<div style="position:absolute;left:114.50px;top:213.60px;width:1px;height:2px;background:#000"></div>
<div style="position:absolute;left:140.90px;top:213.60px;width:1px;height:2px;background:#000"></div>
<div style="position:absolute;left:167.30px;top:213.60px;width:1px;height:2px;background:#000"></div>
<div style="position:absolute;left:193.70px;top:213.60px;width:1px;height:2px;background:#000"></div>
<div style="position:absolute;left:220.10px;top:213.60px;width:1px;height:2px;background:#000"></div>
<div style="position:absolute;left:246.50px;top:213.60px;width:1px;height:2px;background:#000"></div>
<div style="position:absolute;left:272.90px;top:213.60px;width:1px;height:2px;background:#000"></div>
<div class="tk" style="left:47.20px;top:219.60px">0</div>
<div class="tk" style="left:100.00px;top:219.60px">25</div>
<div class="tk" style="left:152.80px;top:219.60px">50</div>
<div class="tk" style="left:205.60px;top:219.60px">75</div>
<div class="tk" style="left:258.40px;top:219.60px">100</div>
<div class="xl" style="left:117.80px;top:229.6px">Sequence frequency (%)</div>
<div style="position:absolute;left:299.40px;top:212.90px;width:208.40px;height:1px;background:#000"></div>
<div style="position:absolute;left:299.40px;top:213.50px;width:1px;height:2px;background:#000"></div>
<div style="position:absolute;left:325.32px;top:213.50px;width:1px;height:2px;background:#000"></div>
<div style="position:absolute;left:351.25px;top:213.50px;width:1px;height:2px;background:#000"></div>
<div style="position:absolute;left:377.17px;top:213.50px;width:1px;height:2px;background:#000"></div>
<div style="position:absolute;left:403.10px;top:213.50px;width:1px;height:2px;background:#000"></div>
<div style="position:absolute;left:429.02px;top:213.50px;width:1px;height:2px;background:#000"></div>
<div style="position:absolute;left:454.95px;top:213.50px;width:1px;height:2px;background:#000"></div>
<div style="position:absolute;left:480.88px;top:213.50px;width:1px;height:2px;background:#000"></div>
<div style="position:absolute;left:506.80px;top:213.50px;width:1px;height:2px;background:#000"></div>
<div class="tk" style="left:284.90px;top:219.60px">0</div>
<div class="tk" style="left:336.75px;top:219.60px">25</div>
<div class="tk" style="left:388.60px;top:219.60px">50</div>
<div class="tk" style="left:440.45px;top:219.60px">75</div>
<div class="tk" style="left:492.30px;top:219.60px">100</div>
<div class="xl" style="left:353.60px;top:229.6px">Sequence frequency (%)</div>
<div class="fr"></div>
</div></body></html>
